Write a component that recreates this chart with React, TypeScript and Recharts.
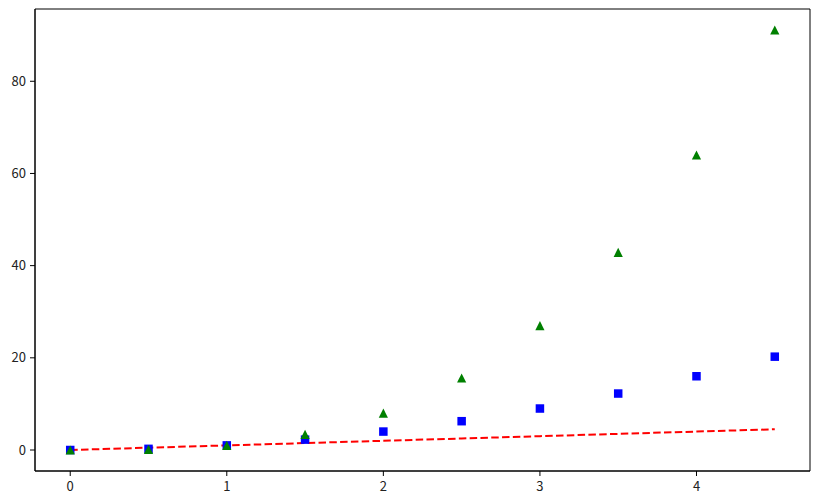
import React from "react";
import { ComposedChart, Line, Scatter, XAxis, YAxis, ReferenceArea } from "recharts";

const tValues = [0, 0.5, 1, 1.5, 2, 2.5, 3, 3.5, 4, 4.5];
const linearValues = [0, 0.5, 1, 1.5, 2, 2.5, 3, 3.5, 4, 4.5];
const squareValues = [0, 0.25, 1, 2.25, 4, 6.25, 9, 12.25, 16, 20.25];
const cubeValues = [0, 0.125, 1, 3.375, 8, 15.625, 27, 42.875, 64, 91.125];
const xTicks = [0, 1, 2, 3, 4];
const yTicks = [0, 20, 40, 60, 80];

const X_DOMAIN: [number, number] = [-0.225, 4.725];
const Y_DOMAIN: [number, number] = [-4.556, 95.681];

const data = tValues.map((t, i) => ({
  t,
  lin: linearValues[i],
  sq: squareValues[i],
  cub: cubeValues[i],
}));

const FONT = "'Noto Sans CJK KR', 'Noto Sans', sans-serif";

const SquareShape = (props: any) => {
  const { cx, cy } = props;
  const s = 8.5;
  return <rect x={cx - s / 2} y={cy - s / 2} width={s} height={s} fill="#0000ff" />;
};

const TriangleShape = (props: any) => {
  const { cx, cy } = props;
  const h = 4.6;
  return (
    <polygon
      points={`${cx},${cy - h} ${cx - h},${cy + h} ${cx + h},${cy + h}`}
      fill="#008000"
    />
  );
};

export default function App() {
  return (
    <div style={{ position: "absolute", left: 0, top: 0, width: 819, height: 504, background: "#fff" }}>
      <ComposedChart
        width={819}
        height={504}
        data={data}
        margin={{ top: 9, right: 9, left: 0, bottom: 0 }}
      >
        <XAxis
          dataKey="t"
          type="number"
          domain={X_DOMAIN}
          ticks={xTicks}
          allowDataOverflow
          height={33}
          stroke="#000"
          tickLine={{ stroke: "#000" }}
          tickSize={5}
          tick={{ fill: "#222", fontSize: 13, fontFamily: FONT }}
          tickMargin={6}
        />
        <YAxis
          type="number"
          domain={Y_DOMAIN}
          ticks={yTicks}
          allowDataOverflow
          width={35}
          stroke="#000"
          tickLine={{ stroke: "#000" }}
          tickSize={5}
          tick={{ fill: "#222", fontSize: 13, fontFamily: FONT }}
          tickMargin={4}
        />
        <ReferenceArea
          x1={X_DOMAIN[0]}
          x2={X_DOMAIN[1]}
          y1={Y_DOMAIN[0]}
          y2={Y_DOMAIN[1]}
          fill="none"
          fillOpacity={0}
          stroke="#000"
          strokeWidth={1}
          strokeOpacity={1}
          ifOverflow="visible"
        />
        <Line
          dataKey="lin"
          stroke="#ff0000"
          strokeWidth={2}
          strokeDasharray="7.5 3.3"
          dot={false}
          activeDot={false}
          type="linear"
          isAnimationActive={false}
        />
        <Scatter dataKey="sq" data={data} shape={SquareShape} isAnimationActive={false} />
        <Scatter dataKey="cub" data={data} shape={TriangleShape} isAnimationActive={false} />
      </ComposedChart>
    </div>
  );
}
